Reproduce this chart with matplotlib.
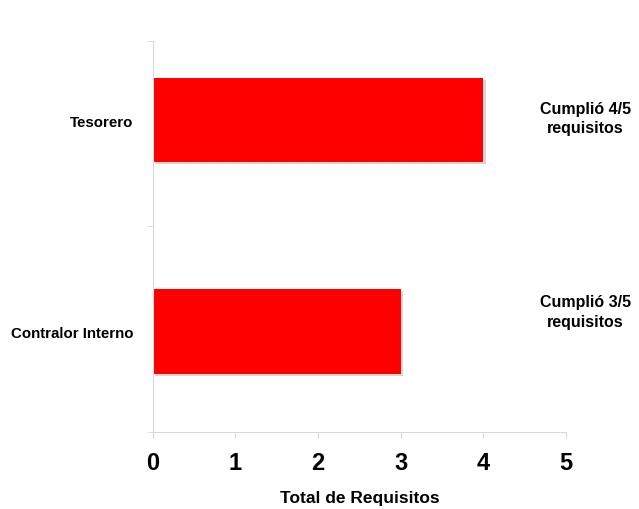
import matplotlib
matplotlib.use("Agg")
import matplotlib.pyplot as plt
import matplotlib.patheffects as pe

categories = ["Contralor Interno", "Tesorero"]
valores = [3, 4]
notas = ["Cumplió 3/5\nrequisitos", "Cumplió 4/5\nrequisitos"]

RED = "#ff0000"
AXIS = "#d9d9d9"

plt.rcParams["font.family"] = ["Liberation Sans", "DejaVu Sans"]
plt.rcParams["font.weight"] = "bold"
plt.rcParams["axes.labelweight"] = "bold"

fig = plt.figure(figsize=(6.39, 5.10), dpi=100)
ax = fig.add_axes([0.239, 0.151, 0.647, 0.767])

ypos = list(range(len(categories)))
bars = ax.barh(ypos, valores, height=0.4, color=RED, linewidth=0)
for b in bars:
    b.set_path_effects([pe.SimplePatchShadow(offset=(1.5, -1.5), shadow_rgbFace="#cccccc", alpha=0.8),
                        pe.Normal()])

ax.set_xlim(0, 5)
ax.set_ylim(-0.475, 1.375)
ax.set_xticks(range(6))
ax.tick_params(axis="x", labelsize=17, length=4, color=AXIS, pad=10)
ax.set_yticks(ypos)
ax.set_yticklabels(categories, fontsize=10.8)
ax.tick_params(axis="y", length=0, pad=14)
ax.set_yticks([-0.475, 0.5, 1.375], minor=True)
ax.tick_params(axis="y", which="minor", length=4, color=AXIS)

for s in ["top", "right"]:
    ax.spines[s].set_visible(False)
for s in ["left", "bottom"]:
    ax.spines[s].set_color(AXIS)

ax.set_xlabel("Total de Requisitos", fontsize=12.5, labelpad=11)

offsets = [0.095, 0.01]
for y, nota, off in zip(ypos, notas, offsets):
    ax.text(5.23, y + off, nota, ha="center", va="center", fontsize=11.5,
            clip_on=False, linespacing=1.35)

fig.savefig("out.png", dpi=100)
